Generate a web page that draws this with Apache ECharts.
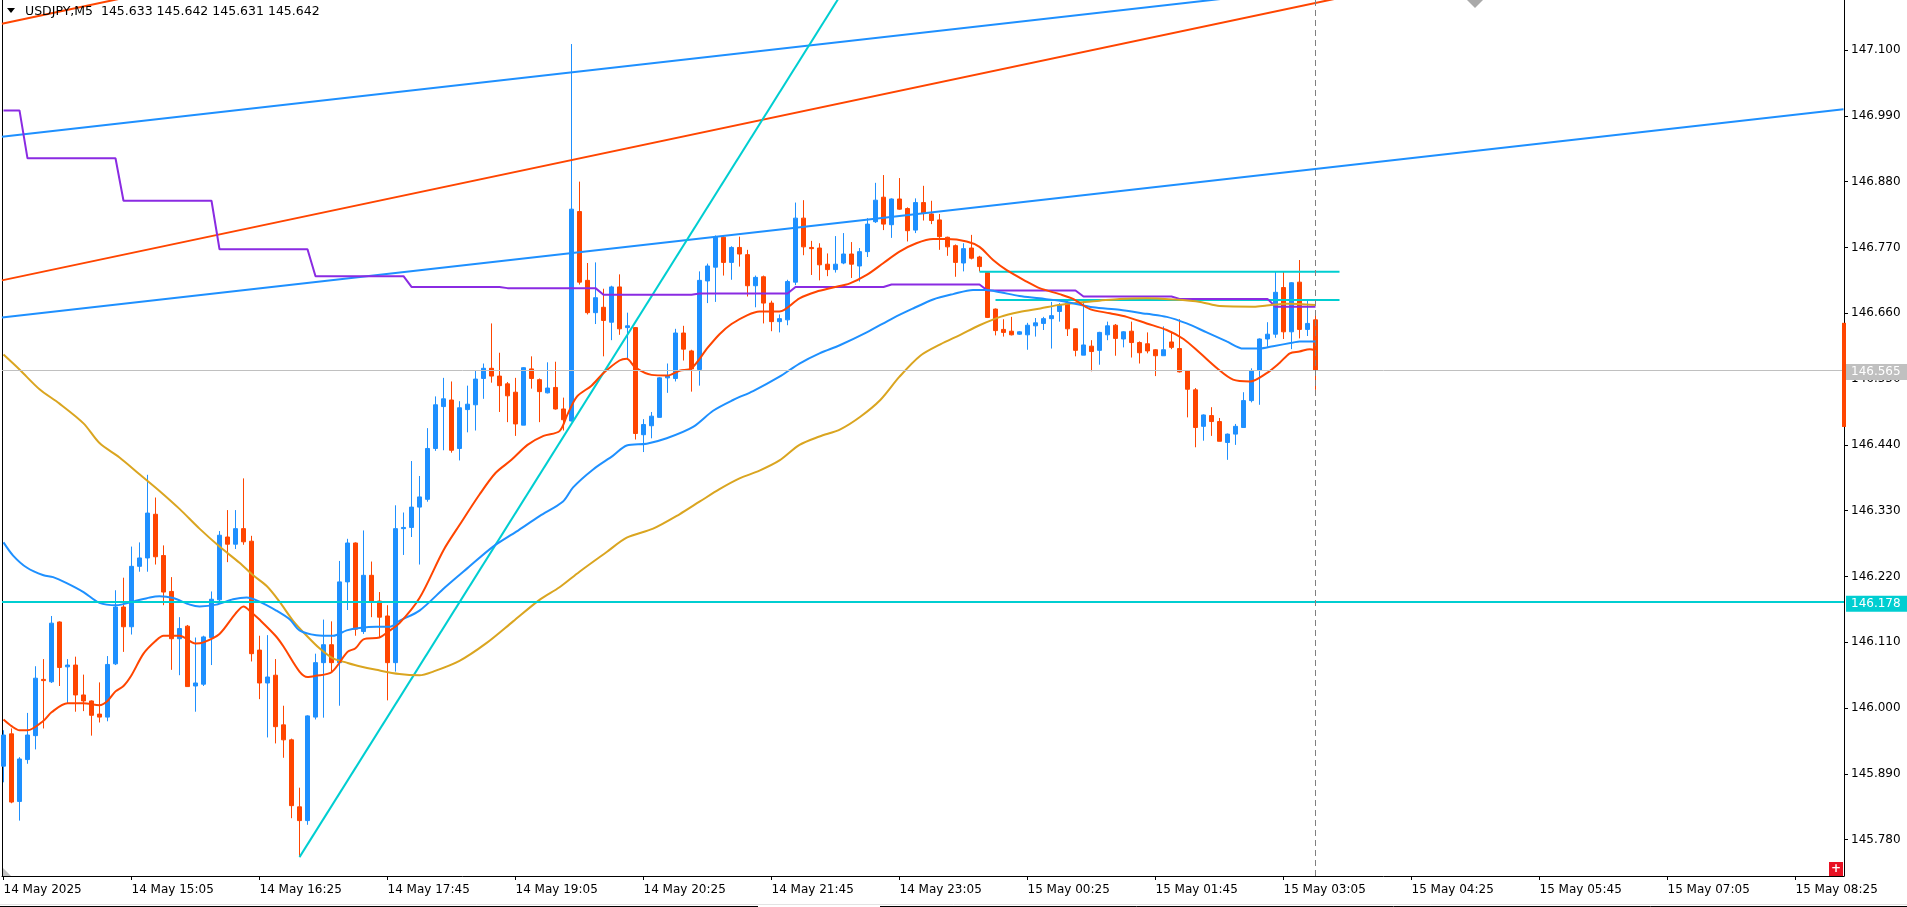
<!DOCTYPE html>
<html>
<head>
<meta charset="utf-8">
<title>USDJPY,M5</title>
<script src="https://cdn.jsdelivr.net/npm/echarts@6/dist/echarts.min.js"></script>
<style>
    html, body { margin: 0; padding: 0; background: #fff; }
    #main { width: 1907px; height: 907px; }
</style>
</head>
<body>
<div id="main"></div>
<script>
// USDJPY M5 candles, 14 May 13:45 .. 15 May 03:25 (bar index = 5 min step)
var opens = [145.903,145.957,145.844,145.914,145.954,146.048,146.044,146.144,146.069,146.072,
    146.022,146.012,145.990,145.985,146.074,146.169,146.136,146.237,146.251,146.324,
    146.255,146.195,146.116,146.137,146.037,146.040,146.118,146.181,146.286,146.274,
    146.300,146.279,146.097,146.042,146.055,145.972,145.947,145.835,145.812,145.985,
    146.076,146.106,146.076,146.211,146.276,146.128,146.222,146.179,146.154,146.076,
    146.300,146.302,146.336,146.349,146.434,146.504,146.515,146.434,146.499,146.507,
    146.551,146.568,146.555,146.542,146.528,146.473,146.567,146.549,146.527,146.536,
    146.500,146.480,146.830,146.715,146.661,146.670,146.645,146.704,146.636,146.636,
    146.457,146.472,146.486,146.552,146.551,146.627,146.597,146.566,146.714,146.737,
    146.787,146.745,146.770,146.758,146.706,146.721,146.677,146.646,146.649,146.712,
    146.819,146.770,146.769,146.742,146.733,146.744,146.759,146.739,146.763,146.813,
    146.854,146.808,146.851,146.835,146.799,146.845,146.826,146.816,146.787,146.773,
    146.744,146.769,146.754,146.728,146.667,146.633,146.630,146.625,146.624,146.639,
    146.643,146.651,146.663,146.677,146.634,146.590,146.605,146.598,146.624,146.640,
    146.617,146.630,146.611,146.609,146.599,146.589,146.612,146.601,146.564,146.532,
    146.471,146.489,146.479,146.444,146.458,146.469,146.514,146.565,146.617,146.625,
    146.703,146.629,146.712,146.633,146.649];
var closes = [145.955,145.843,145.915,145.955,146.050,146.046,146.142,146.068,146.072,146.022,
    146.012,145.988,145.985,146.073,146.169,146.136,146.237,146.251,146.326,146.253,
    146.194,146.116,146.133,146.036,146.042,146.119,146.182,146.289,146.274,146.300,
    146.278,146.091,146.042,146.052,145.969,145.947,145.837,145.812,145.987,146.076,
    146.106,146.076,146.211,146.276,146.132,146.222,146.179,146.152,146.076,146.300,
    146.302,146.336,146.353,146.434,146.507,146.517,146.431,146.502,146.508,146.550,
    146.568,146.555,146.539,146.522,146.475,146.569,146.551,146.529,146.535,146.500,
    146.482,146.834,146.712,146.661,146.686,146.648,146.704,146.634,146.639,146.459,
    146.474,146.488,146.552,146.555,146.627,146.600,146.567,146.715,146.739,146.787,
    146.745,146.770,146.759,146.706,146.720,146.677,146.646,146.651,146.713,146.819,
    146.771,146.768,146.741,146.733,146.742,146.759,146.742,146.763,146.809,146.849,
    146.809,146.851,146.834,146.798,146.845,146.827,146.815,146.788,146.771,146.745,
    146.768,146.752,146.738,146.653,146.631,146.628,146.624,146.629,146.640,146.644,
    146.651,146.656,146.674,146.634,146.598,146.607,146.596,146.628,146.639,146.618,
    146.629,146.611,146.594,146.597,146.589,146.599,146.603,146.562,146.533,146.469,
    146.490,146.479,146.446,146.458,146.471,146.514,146.564,146.617,146.625,146.695,
    146.629,146.711,146.633,146.643,146.565];
var lows = [145.876,145.841,145.812,145.907,145.931,145.966,146.042,146.037,146.007,145.994,
    145.995,145.954,145.976,145.978,146.072,146.094,146.123,146.228,146.228,146.240,
    146.172,146.064,146.055,146.036,145.994,146.037,146.072,146.179,146.244,146.266,
    146.273,146.078,146.015,145.951,145.941,145.917,145.816,145.751,145.805,145.981,
    145.984,146.061,146.004,146.164,146.121,146.124,146.152,146.118,146.013,146.061,
    146.256,146.286,146.240,146.345,146.430,146.431,146.427,146.414,146.461,146.464,
    146.517,146.544,146.495,146.478,146.455,146.473,146.534,146.478,146.526,146.499,
    146.464,146.479,146.708,146.658,146.642,146.588,146.615,146.624,146.584,146.449,
    146.428,146.451,146.486,146.527,146.546,146.581,146.529,146.539,146.677,146.679,
    146.723,146.716,146.738,146.688,146.670,146.643,146.630,146.628,146.640,146.707,
    146.757,146.724,146.715,146.722,146.728,146.742,146.719,146.713,146.754,146.811,
    146.799,146.786,146.833,146.780,146.794,146.815,146.809,146.766,146.756,146.721,
    146.730,146.750,146.730,146.652,146.623,146.621,146.623,146.624,146.599,146.621,
    146.632,146.601,146.646,146.622,146.588,146.590,146.563,146.574,146.615,146.589,
    146.603,146.586,146.576,146.593,146.555,146.589,146.600,146.561,146.486,146.436,
    146.447,146.455,146.446,146.415,146.440,146.469,146.511,146.507,146.604,146.619,
    146.617,146.600,146.618,146.622,146.532];
var highs = [145.963,145.966,145.918,145.992,146.070,146.082,146.154,146.145,146.082,146.086,
    146.056,146.013,146.043,146.087,146.197,146.218,146.270,146.277,146.390,146.352,
    146.272,146.219,146.152,146.139,146.118,146.121,146.195,146.296,146.331,146.331,
    146.384,146.288,146.121,146.122,146.082,146.004,145.949,145.867,145.988,146.091,
    146.148,146.145,146.246,146.283,146.277,146.297,146.245,146.194,146.172,146.339,
    146.327,146.413,146.388,146.468,146.521,146.552,146.546,146.513,146.539,146.564,
    146.576,146.643,146.594,146.545,146.552,146.570,146.588,146.551,146.578,146.579,
    146.519,147.110,146.880,146.744,146.745,146.701,146.706,146.725,146.661,146.637,
    146.483,146.495,146.553,146.576,146.634,146.639,146.599,146.730,146.743,146.790,
    146.790,146.772,146.788,146.766,146.723,146.723,146.681,146.658,146.716,146.845,
    146.849,146.781,146.777,146.760,146.789,146.794,146.779,146.769,146.819,146.878,
    146.891,146.852,146.886,146.837,146.852,146.873,146.848,146.826,146.788,146.775,
    146.777,146.791,146.756,146.729,146.668,146.650,146.654,146.630,146.644,146.652,
    146.654,146.679,146.677,146.680,146.635,146.682,146.615,146.629,146.646,146.642,
    146.630,146.646,146.613,146.628,146.600,146.638,146.629,146.650,146.565,146.535,
    146.491,146.503,146.485,146.459,146.475,146.528,146.568,146.618,146.645,146.729,
    146.729,146.712,146.749,146.682,146.657];

// moving averages: [bar, price]
var maFast = [[0,145.981],[1,145.970],[2,145.963],[3,145.963],[5,145.979],[6,145.993],[8,146.008],[10,146.008],
    [12,146.005],[13,146.012],[14,146.028],[15,146.037],[16,146.055],[17.5,146.091],[19,146.112],[20,146.121],
    [22,146.121],[24,146.108],[25,146.110],[27,146.124],[29,146.158],[30,146.170],[31,146.160],[32,146.148],
    [34,146.121],[35,146.103],[37,146.061],[38,146.052],[39,146.054],[41,146.060],[43,146.094],[44,146.100],
    [45,146.115],[47,146.118],[48,146.127],[49.5,146.142],[52,146.184],[55,146.264],[57,146.306],[59.5,146.357],
    [61.5,146.393],[63.5,146.415],[65.5,146.440],[67.5,146.455],[69.5,146.463],[70.5,146.491],[71.7,146.521],
    [73.5,146.539],[75,146.560],[77,146.581],[77.9,146.584],[79,146.569],[81,146.557],[83,146.556],[84.5,146.564],
    [86,146.568],[88,146.602],[89.5,146.625],[91,146.642],[93,146.657],[94.5,146.663],[97,146.663],[99.5,146.685],
    [101.6,146.696],[103.7,146.703],[105.8,146.710],[107.9,146.724],[110,146.744],[112,146.763],[114.1,146.777],
    [116.2,146.784],[117.9,146.784],[120.4,146.780],[122,146.771],[123.7,146.749],[125.4,146.732],[127.9,146.713],
    [129.5,146.702],[132,146.692],[133.7,146.684],[135.8,146.667],[138.3,146.660],[140.4,146.654],[142.9,146.643],
    [145.4,146.632],[147.5,146.617],[149.6,146.593],[151.7,146.568],[153.7,146.549],[155.8,146.546],[157.9,146.560],
    [159.5,146.577],[160.8,146.593],[162,146.596],[163.3,146.600],[164,146.598]];
var maMid = [[0,146.277],[1.2,146.255],[2.9,146.235],[5,146.222],[6.2,146.219],[7.9,146.209],[10,146.194],
    [12,146.176],[14.1,146.172],[16.2,146.178],[18.3,146.185],[19.5,146.187],[21.2,146.184],[23.3,146.173],
    [24.5,146.170],[26.6,146.173],[28.7,146.182],[30.4,146.185],[32,146.178],[34.1,146.163],[35.8,146.148],
    [37,146.130],[39.1,146.122],[41.2,146.121],[42.9,146.130],[44.5,146.134],[46.6,146.136],[48.3,146.136],
    [49.5,146.146],[52,146.163],[55.2,146.202],[58,146.234],[61.2,146.270],[64.1,146.295],[67,146.321],
    [69.9,146.345],[71.2,146.369],[73.7,146.399],[76.2,146.422],[77.9,146.439],[80.4,146.442],[82.9,146.451],
    [86.2,146.470],[88.7,146.497],[91.2,146.515],[93.7,146.530],[97,146.554],[99.5,146.576],[102,146.593],
    [104.6,146.607],[107.9,146.628],[111.2,146.652],[113.7,146.668],[116.2,146.683],[118.7,146.692],[121.2,146.699],
    [122.9,146.699],[124.6,146.695],[127,146.689],[129.5,146.685],[132.9,146.679],[136.2,146.670],[139.5,146.666],
    [142.9,146.659],[145.4,146.654],[147.9,146.643],[150.4,146.628],[152.9,146.613],[155,146.601],[157,146.601],
    [158.7,146.605],[161.2,146.611],[162,146.613],[164,146.613]];
var maSlow = [[0,146.591],[2,146.566],[4.5,146.533],[7,146.509],[10,146.476],[12,146.443],[14.5,146.419],
    [17,146.391],[19.5,146.363],[22,146.333],[24.5,146.300],[27,146.270],[29.5,146.243],[31.2,146.222],
    [32.9,146.204],[34.5,146.178],[36.2,146.146],[37.9,146.121],[39.5,146.100],[41.2,146.083],[42.9,146.076],
    [44.5,146.070],[46.6,146.064],[49.5,146.057],[52,146.055],[53.7,146.061],[57,146.079],[60.4,146.109],
    [63.7,146.145],[67,146.181],[69.5,146.202],[72,146.228],[75.4,146.261],[77.9,146.285],[81.2,146.300],
    [84.5,146.324],[87,146.345],[89.5,146.366],[92,146.384],[94.5,146.397],[97,146.414],[99.5,146.440],
    [102,146.454],[104.6,146.466],[107.1,146.487],[109.6,146.515],[112,146.554],[114.6,146.589],[117.1,146.608],
    [119.6,146.624],[122,146.640],[124.6,146.654],[127,146.662],[129.6,146.668],[132,146.674],[134.5,146.678],
    [137,146.681],[139.5,146.684],[142.9,146.685],[146.2,146.683],[149.6,146.679],[152,146.672],[156.3,146.671],
    [157.9,146.673],[160.4,146.676],[164,146.674]];

// hourly step level
var stepStart = [0, 3, 15, 27, 39, 51, 63, 75, 87, 99, 111, 123, 135, 147, 159];
var stepEnd = [2, 14, 26, 38, 50, 62, 74, 86, 98, 110, 122, 134, 146, 158, 164];
var stepVal = [146.999, 146.919, 146.848, 146.767, 146.722, 146.704, 146.702, 146.691, 146.693, 146.704,
    146.708, 146.698, 146.688, 146.684, 146.671];

// trend lines: two anchor points each [bar, price]
var redUpper = [[-0.2, 147.144], [230, 147.795]];
var redLower = [[-0.2, 146.715], [230, 147.365]];
var blueUpper = [[-0.2, 146.955], [230, 147.303]];
var blueMid = [[-0.2, 146.653], [230, 147.001]];
var cyanRise = [[37, 145.751], [110, 147.306]];
var cyanTop = [[122, 146.7295], [167, 146.7295]];
var cyanLow = [[124, 146.6822], [167, 146.6822]];
var supportLevel = 146.178;
var bidPrice = 146.565;
var lastBar = 164;
var rangeBar = [146.470, 146.644];

var tickIdx = [0, 16, 32, 48, 64, 80, 96, 112, 128, 144, 160, 176, 192, 208, 224];
var tickLabels = ['14 May 2025', '14 May 15:05', '14 May 16:25', '14 May 17:45', '14 May 19:05',
    '14 May 20:25', '14 May 21:45', '14 May 23:05', '15 May 00:25', '15 May 01:45',
    '15 May 03:05', '15 May 04:25', '15 May 05:45', '15 May 07:05', '15 May 08:25'];
var priceTicks = [145.780, 145.890, 146.000, 146.110, 146.220, 146.330, 146.440, 146.550,
    146.660, 146.770, 146.880, 146.990, 147.100];

var BULL = '#1e90ff', BEAR = '#ff4500', CYAN = '#00ced1';
var FONT = 'DejaVu Sans';

var candles = [];
for (var i = 0; i < opens.length; i++) {
    candles.push([i, opens[i], closes[i], lows[i], highs[i]]);
}

var purple = [];
for (var s = 0; s < stepVal.length; s++) {
    purple.push([stepStart[s], stepVal[s]]);
    purple.push([stepEnd[s], stepVal[s]]);
}

function lineSeries(data, color, width, smooth) {
    return {
        type: 'line',
        data: data,
        showSymbol: false,
        symbol: 'none',
        smooth: smooth || false,
        silent: true,
        z: 3,
        clip: true,
        lineStyle: { color: color, width: width }
    };
}

var chart = echarts.init(document.getElementById('main'), null, { renderer: 'canvas' });

var option = {
    animation: false,
    backgroundColor: '#ffffff',
    textStyle: { fontFamily: FONT },
    grid: { left: 2, right: 63, top: 0, bottom: 31 },
    xAxis: {
        type: 'value',
        min: -0.1875,
        max: 230.0625,
        splitLine: { show: false },
        axisLine: { show: true, onZero: false, lineStyle: { color: '#000', width: 1 } },
        axisTick: { show: true, length: 4, customValues: tickIdx, lineStyle: { color: '#000' } },
        axisLabel: {
            customValues: tickIdx,
            align: 'left',
            margin: 8,
            color: '#000',
            fontFamily: FONT,
            fontSize: 12,
            formatter: function (v) {
                var k = tickIdx.indexOf(Math.round(v));
                return k >= 0 ? tickLabels[k] : '';
            }
        }
    },
    yAxis: [{
        type: 'value',
        position: 'right',
        min: 145.7194,
        max: 147.1836,
        scale: true,
        splitLine: { show: false },
        axisLine: { show: true, onZero: false, lineStyle: { color: '#000', width: 1 } },
        axisTick: { show: true, length: 4, customValues: priceTicks, lineStyle: { color: '#000' } },
        axisLabel: {
            customValues: priceTicks,
            margin: 7,
            color: '#000',
            fontFamily: FONT,
            fontSize: 12,
            formatter: function (v) { return v.toFixed(3); }
        }
    }, {
        type: 'value',
        position: 'left',
        min: 145.7194,
        max: 147.1836,
        splitLine: { show: false },
        axisLine: { show: true, onZero: false, lineStyle: { color: '#000', width: 1 } },
        axisTick: { show: false },
        axisLabel: { show: false }
    }],
    series: [
        {
            type: 'candlestick',
            data: candles,
            barWidth: 4,
            z: 2,
            silent: true,
            itemStyle: {
                color: BULL,
                color0: BEAR,
                borderColor: BULL,
                borderColor0: BEAR,
                borderColorDoji: BULL,
                borderWidth: 1
            },
            markLine: {
                silent: true,
                symbol: 'none',
                animation: false,
                precision: 3,
                data: [
                    {
                        yAxis: bidPrice,
                        lineStyle: { color: '#c0c0c0', width: 1, type: 'solid' },
                        label: {
                            show: true, position: 'end', distance: 2,
                            formatter: bidPrice.toFixed(3),
                            backgroundColor: '#c0c0c0', color: '#ffffff',
                            fontFamily: FONT, fontSize: 12,
                            padding: [2, 8, 2, 5], offset: [0, 2]
                        }
                    },
                    {
                        yAxis: supportLevel,
                        lineStyle: { color: CYAN, width: 2, type: 'solid' },
                        label: {
                            show: true, position: 'end', distance: 2,
                            formatter: supportLevel.toFixed(3),
                            backgroundColor: CYAN, color: '#ffffff',
                            fontFamily: FONT, fontSize: 12,
                            padding: [2, 8, 2, 5], offset: [0, 2]
                        }
                    },
                    {
                        xAxis: lastBar,
                        lineStyle: { color: '#808080', width: 1, type: [6, 4] },
                        label: { show: false }
                    },
                    [
                        { coord: [230, rangeBar[0]], lineStyle: { color: BEAR, width: 4, type: 'solid' }, label: { show: false } },
                        { coord: [230, rangeBar[1]] }
                    ]
                ]
            }
        },
        lineSeries(redUpper, BEAR, 2),
        lineSeries(redLower, BEAR, 2),
        lineSeries(blueUpper, BULL, 2),
        lineSeries(blueMid, BULL, 2),
        lineSeries(cyanRise, CYAN, 2),
        lineSeries(cyanTop, CYAN, 2),
        lineSeries(cyanLow, CYAN, 2),
        lineSeries(purple, '#8a2be2', 2),
        lineSeries(maSlow, '#daa520', 2, 0.3),
        lineSeries(maMid, BULL, 2, 0.3),
        lineSeries(maFast, BEAR, 2, 0.3)
    ],
    graphic: [
        // header
        { type: 'polygon', shape: { points: [[7, 8], [15, 8], [11, 13]] }, style: { fill: '#000' }, z: 10 },
        { type: 'text', x: 25, y: 12, z: 10,
          style: { text: 'USDJPY,M5  145.633 145.642 145.631 145.642', fill: '#000',
                   font: '12.5px "DejaVu Sans"', verticalAlign: 'middle' } },
        // scroll marker on top
        { type: 'polygon', shape: { points: [[1467, 0], [1483, 0], [1475, 8]] }, style: { fill: '#a9a9a9' }, z: 10 },
        // corner marker bottom-left
        { type: 'polygon', shape: { points: [[3, 868], [3, 876], [11, 876]] }, style: { fill: '#c0c0c0' }, z: 10 },
        // red plus button
        { type: 'rect', shape: { x: 1829, y: 862, width: 14, height: 14 }, style: { fill: '#e81123' }, z: 10 },
        { type: 'text', x: 1836, y: 869, z: 11,
          style: { text: '+', fill: '#fff', font: 'bold 12px "DejaVu Sans"', align: 'center', verticalAlign: 'middle' } },
        // bottom scroll strip
        { type: 'line', shape: { x1: 0, y1: 904.5, x2: 1907, y2: 904.5 }, style: { stroke: '#e3e3e3', lineWidth: 1 }, z: 10 },
        { type: 'line', shape: { x1: 0, y1: 906.5, x2: 758, y2: 906.5 }, style: { stroke: '#000', lineWidth: 1 }, z: 10 },
        { type: 'line', shape: { x1: 880, y1: 906.5, x2: 1907, y2: 906.5 }, style: { stroke: '#000', lineWidth: 1 }, z: 10 }
    ]
};

chart.setOption(option);
</script>
</body>
</html>
